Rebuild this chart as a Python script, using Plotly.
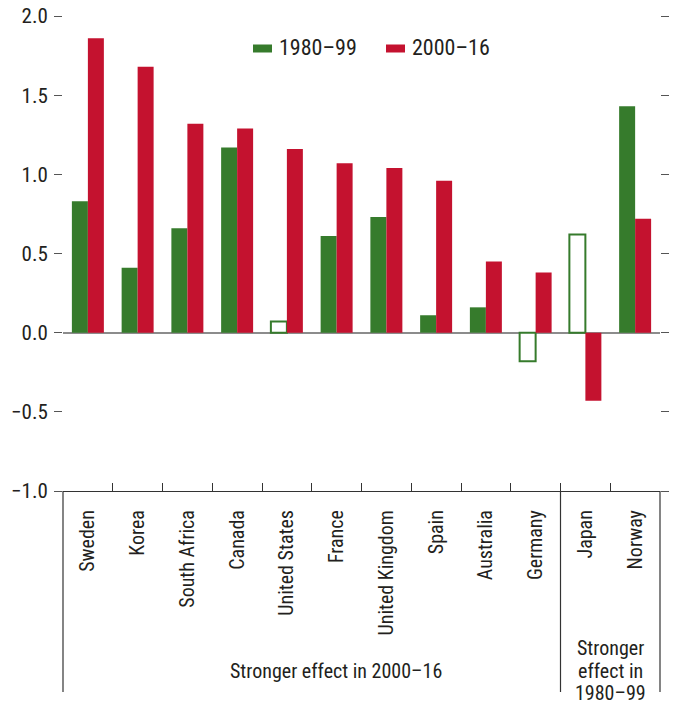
import plotly.graph_objects as go

# Country order and bar values
countries = ["Sweden", "Korea", "South Africa", "Canada", "United States", "France",
             "United Kingdom", "Spain", "Australia", "Germany", "Japan", "Norway"]
effect_1980_99 = [0.83, 0.41, 0.66, 1.17, 0.07, 0.61, 0.73, 0.11, 0.16, -0.18, 0.62, 1.43]
effect_2000_16 = [1.86, 1.68, 1.32, 1.29, 1.16, 1.07, 1.04, 0.96, 0.45, 0.38, -0.43, 0.72]
# 1980-99 estimates that are not statistically significant (drawn hollow)
insignificant_1980_99 = [False, False, False, False, True, False,
                         False, False, False, True, True, False]

y_ticks = [-1.0, -0.5, 0.0, 0.5, 1.0, 1.5, 2.0]

GREEN = "#367B2C"
RED = "#C4122F"
TEXT = "#231F20"
FONT = "Roboto Condensed, Liberation Sans Narrow, Arial Narrow, sans-serif"

fig = go.Figure()
fig.add_trace(go.Bar(
    x=countries, y=effect_1980_99, name="1980–99",
    marker=dict(
        color=["white" if h else GREEN for h in insignificant_1980_99],
        line=dict(color=GREEN, width=[2 if h else 0 for h in insignificant_1980_99]),
    ),
))
fig.add_trace(go.Bar(
    x=countries, y=effect_2000_16, name="2000–16",
    marker=dict(color=RED, line=dict(width=0)),
))

# Plot-area pixel geometry used for paper-coordinate helpers
L, R, T, B = 63, 660, 16, 491
W, H = R - L, B - T


def px_x(px):
    return (px - L) / W


def px_y(py):
    return (B - py) / H


shapes = []
annotations = []

# Legend swatches and labels
for sx0, tx, color, label in [(253, 278, GREEN, "1980–99"), (386, 411, RED, "2000–16")]:
    shapes.append(dict(type="rect", xref="paper", yref="paper",
                       x0=px_x(sx0), x1=px_x(sx0 + 19), y0=px_y(52.5), y1=px_y(44.5),
                       fillcolor=color, line=dict(width=0)))
    annotations.append(dict(xref="paper", yref="paper", x=px_x(tx), y=px_y(47.5),
                            text=label, showarrow=False, xanchor="left", yanchor="middle",
                            borderpad=0, font=dict(size=22, color=TEXT, family=FONT)))

# Group bracket lines under the category axis
line_bottom = px_y(692)
for xr, xv in [("paper", 0), ("x", 9.5), ("paper", 1)]:
    shapes.append(dict(type="line", xref=xr, yref="paper", x0=xv, x1=xv,
                       y0=0, y1=line_bottom, line=dict(color="#333333", width=1.2)))

annotations.append(dict(xref="x", yref="paper", x=4.98, y=px_y(671),
                        text="Stronger effect in 2000–16", showarrow=False,
                        xanchor="center", yanchor="middle",
                        font=dict(size=20, color=TEXT, family=FONT)))
for txt, py in [("Stronger", 648), ("effect in", 670.5), ("1980–99", 693)]:
    annotations.append(dict(xref="x", yref="paper", x=10.5, y=px_y(py),
                            text=txt, showarrow=False, xanchor="center", yanchor="middle",
                            borderpad=0, font=dict(size=20, color=TEXT, family=FONT)))

fig.update_layout(
    width=677, height=705,
    margin=dict(l=L, r=677 - R, t=T, b=705 - B),
    paper_bgcolor="white", plot_bgcolor="white",
    barmode="group", bargap=0.357, bargroupgap=0,
    showlegend=False,
    font=dict(family=FONT, color=TEXT, size=20),
    shapes=shapes, annotations=annotations,
)
fig.update_xaxes(
    type="category", automargin=False, showgrid=False, showline=True,
    linecolor="#333333", linewidth=1.2,
    ticks="inside", ticklen=8, tickcolor="#333333", tickwidth=1.2, tickson="boundaries",
    tickangle=-90, tickfont=dict(size=20, color=TEXT, family=FONT),
    ticklabelstandoff=10,
)
fig.update_yaxes(
    range=[-1, 2], automargin=False, tickvals=y_ticks,
    ticktext=[f"{v:.1f}".replace("-", "\u2212") for v in y_ticks],
    showgrid=False, showline=False, zeroline=True, zerolinecolor="#8C8C8C", zerolinewidth=1.5,
    ticks="outside", ticklen=8, tickcolor="#555555", tickwidth=1.2, mirror="ticks",
    tickfont=dict(size=21, color=TEXT, family=FONT), ticklabelstandoff=2,
)

fig.write_html("out.html")
